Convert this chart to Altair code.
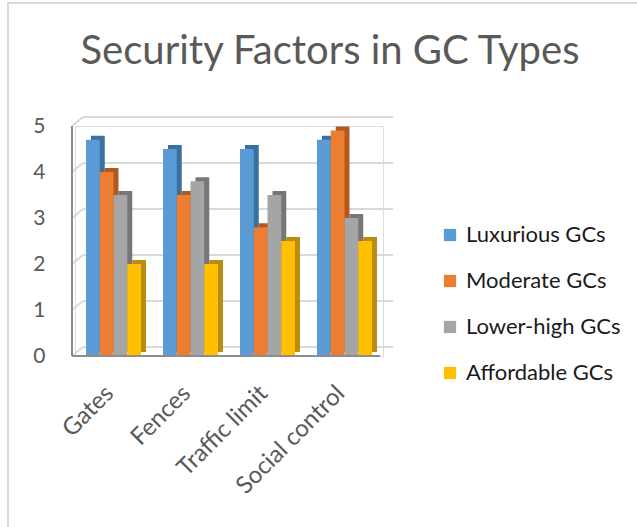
import altair as alt
import pandas as pd

title_text = "Security Factors in GC Types"
categories = ["Gates", "Fences", "Traffic limit", "Social control"]
series = ["Luxurious GCs", "Moderate GCs", "Lower-high GCs", "Affordable GCs"]
luxurious = [4.7, 4.5, 4.5, 4.7]
moderate = [4.0, 3.5, 2.8, 4.9]
lower_high = [3.5, 3.8, 3.5, 3.0]
affordable = [2.0, 2.0, 2.5, 2.5]
y_ticks = [0, 1, 2, 3, 4, 5]

values = [luxurious, moderate, lower_high, affordable]
rows = []
for s, vals in zip(series, values):
    for c, v in zip(categories, vals):
        rows.append({"cat": c, "series": s, "value": v})
df = pd.DataFrame(rows)
ticks_df = pd.DataFrame({"t": y_ticks})

front_colors = ["#5b9bd5", "#ed7d31", "#a5a5a5", "#ffc000"]
dark_colors = ["#3a6f9f", "#b25a1e", "#777777", "#b88d12"]

FONT = "Lato"
W, H = 308, 230
GROUP = 55   # bandwidth of one category group
DEPTH = 5

yscale = alt.Scale(domain=[0, 5])
xenc = alt.X("cat:N", sort=categories,
             scale=alt.Scale(paddingInner=0.286, paddingOuter=0.143),
             axis=alt.Axis(title=None, labelAngle=-45, domain=False, ticks=False,
                           labelFontSize=24, labelColor="#595959", labelFont=FONT,
                           labelPadding=25, labelOffset=-12))

base = alt.Chart(df)

grid = alt.Chart(ticks_df).mark_rule(color="#d9d9d9", strokeWidth=2, yOffset=-9).encode(
    y=alt.Y("t:Q", scale=yscale),
    x=alt.value(8), x2=alt.value(318))
diag = alt.Chart(ticks_df).mark_rule(color="#d9d9d9", strokeWidth=2, y2Offset=-9).encode(
    y=alt.Y("t:Q", scale=yscale), y2="t:Q",
    x=alt.value(-3), x2=alt.value(8))

dark = base.mark_bar(yOffset=-4, y2Offset=-4).encode(
    x=xenc,
    xOffset=alt.XOffset("series:N", sort=series,
                        scale=alt.Scale(domain=series, range=[DEPTH, GROUP + DEPTH])),
    y=alt.Y("value:Q", scale=yscale),
    color=alt.Color("series:N", sort=series,
                    scale=alt.Scale(domain=series, range=dark_colors), legend=None))

front = base.mark_bar().encode(
    x=xenc,
    xOffset=alt.XOffset("series:N", sort=series,
                        scale=alt.Scale(domain=series, range=[0, GROUP])),
    y=alt.Y("value:Q", scale=yscale,
            axis=alt.Axis(title=None, values=y_ticks, domain=False, ticks=False, grid=False,
                          labelFontSize=21, labelColor="#595959", labelFont=FONT,
                          labelPadding=30)),
    color=alt.Color("series:N", sort=series,
                    scale=alt.Scale(domain=series, range=front_colors),
                    legend=alt.Legend(title=None, orient="none", legendX=364, legendY=98,
                                      symbolType="square", symbolSize=150, symbolStrokeWidth=0,
                                      labelFontSize=22, labelColor="#1a1a1a", labelFont=FONT,
                                      rowPadding=24, labelOffset=5)))

left_axis = alt.Chart(ticks_df).mark_rule(color="#8c8c8c", strokeWidth=2).encode(
    x=alt.value(-3), y=alt.datum(0, scale=yscale), y2=alt.datum(5))
bottom_axis = alt.Chart(ticks_df).mark_rule(color="#8c8c8c", strokeWidth=2).encode(
    x=alt.value(-3), x2=alt.value(305), y=alt.datum(0, scale=yscale))

frame = alt.Chart(ticks_df).mark_rect(fill=None, stroke="#d9d9d9", strokeWidth=2).encode(
    x=alt.value(-67), x2=alt.value(570), y=alt.value(-123), y2=alt.value(410))

title = alt.Chart(pd.DataFrame({"title": [title_text]})).mark_text(
    font=FONT, fontSize=40, color="#595959", align="center", baseline="alphabetic").encode(
    text="title:N", x=alt.value(255), y=alt.value(-62))

chart = alt.layer(frame, title, grid, diag, dark, front, left_axis, bottom_axis).resolve_scale(
    color="independent", xOffset="independent").properties(
    width=W, height=H,
    autosize=alt.AutoSizeParams(type="none"),
    padding={"left": 75, "top": 126, "right": 254, "bottom": 171},
).configure_view(stroke=None).configure(background="white")

chart.save("out.html", embed_options={"renderer": "svg", "actions": False})
